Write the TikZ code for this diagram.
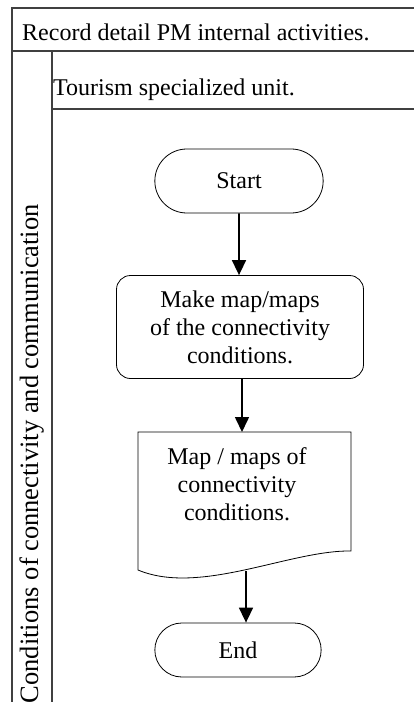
\documentclass[tikz,border=0pt]{standalone}
\usepackage{fontspec}
\setmainfont{Liberation Serif}
\usetikzlibrary{arrows.meta, positioning, shapes.misc}

\tikzset{
    lane/.style={line width=1.8pt, draw=black!75},
    terminal/.style={draw, rounded rectangle, line width=0.8pt, minimum width=175pt, minimum height=64pt, font=\fontsize{24}{28}\selectfont},
    process/.style={draw, rectangle, rounded corners=14pt, line width=0.8pt, minimum width=247pt, minimum height=103pt, align=center, font=\fontsize{24}{28}\selectfont},
    flow/.style={line width=1.6pt, -{Triangle[width=14pt,length=15pt]}}
}

\begin{document}
\begin{tikzpicture}[x=1pt,y=-1pt]
    \useasboundingbox (0,0) rectangle (414,702);

    % Swimlane frame
    \draw[lane] (414,8) -- (12,8) -- (12,702);
    \draw[lane] (12,51) -- (414,51);
    \draw[lane] (52,51) -- (52,702);
    \draw[lane] (52,109) -- (414,109);

    % Lane titles
    \node[anchor=base west, inner sep=0pt, font=\fontsize{24}{28}\selectfont] (pool) at (22,40) {Record detail PM internal activities.};
    \node[anchor=base west, inner sep=0pt, font=\fontsize{24}{28}\selectfont] (unit) at (53,95) {Tourism specialized unit.};
    \node[rotate=90, anchor=base east, inner sep=0pt, font=\fontsize{26.5}{30}\selectfont] (lane) at (38,204) {Conditions of connectivity and communication};

    % Flow
    \node[terminal] (start) at (239,181) {Start};
    \node[process] (make) at (240,327) {Make map/maps\\of the connectivity\\conditions.};

    % Document shape
    \coordinate (dtop) at (242,432);
    \coordinate (dbot) at (246,571);
    \draw[line width=0.8pt] (138,432) -- (351,432) -- (351,551)
        .. controls (290,550) and (200,596) .. (138,570) -- cycle;
    \node[align=center, font=\fontsize{24}{28}\selectfont] (maps) at (237,484) {Map / maps of\\connectivity\\conditions.};

    \node[terminal, minimum width=173pt, minimum height=54pt] (end) at (238,650) {End};

    % Connectors
    \draw[flow] (start) -- (start |- make.north);
    \draw[flow] (make.south -| dtop) -- (dtop);
    \draw[flow] (dbot) -- (dbot |- end.north);
\end{tikzpicture}
\end{document}
